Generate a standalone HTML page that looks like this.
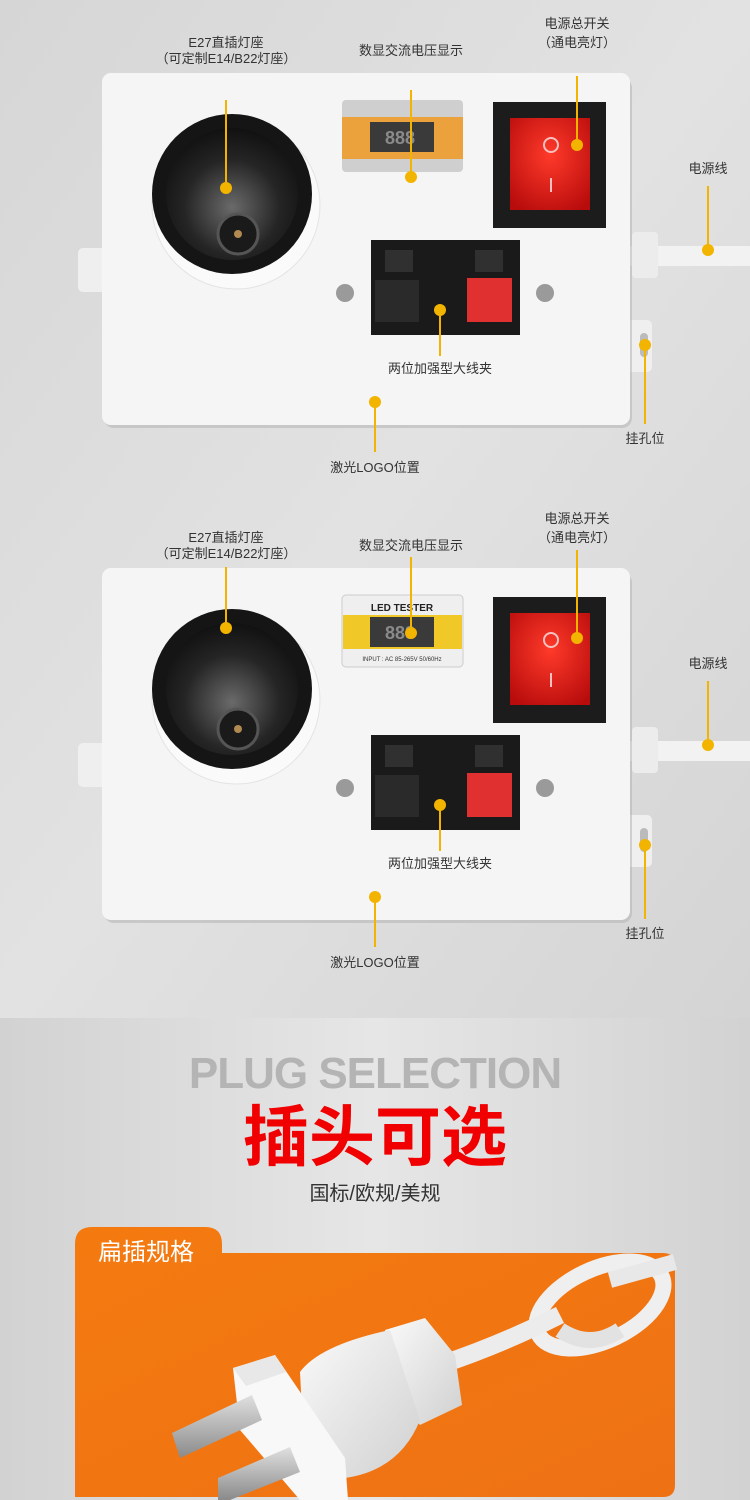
<!DOCTYPE html>
<html><head><meta charset="utf-8"><style>
html,body{margin:0;padding:0;width:750px;height:1500px;overflow:hidden;background:#d9d9d9}
svg{display:block}
text{font-family:"Liberation Sans","Noto Sans CJK SC",sans-serif}
</style></head><body>
<svg width="750" height="1500" viewBox="0 0 750 1500" xmlns="http://www.w3.org/2000/svg">
<defs>
<linearGradient id="bg1" x1="0" y1="0" x2="1" y2="1"><stop offset="0" stop-color="#d6d6d6"/><stop offset="0.5" stop-color="#e2e2e2"/><stop offset="1" stop-color="#d4d4d4"/></linearGradient>
<linearGradient id="bg2" x1="0" y1="0" x2="1" y2="0"><stop offset="0" stop-color="#d2d2d2"/><stop offset="0.5" stop-color="#e6e6e6"/><stop offset="1" stop-color="#d2d2d2"/></linearGradient>
<linearGradient id="or" x1="0" y1="0" x2="1" y2="1"><stop offset="0" stop-color="#f47a10"/><stop offset="1" stop-color="#ee7214"/></linearGradient>
<radialGradient id="red" cx="0.5" cy="0.4" r="0.7"><stop offset="0" stop-color="#ff3a2a"/><stop offset="1" stop-color="#b80c0c"/></radialGradient>
<radialGradient id="sock" cx="0.5" cy="0.6" r="0.6"><stop offset="0" stop-color="#6a6a6a"/><stop offset="0.6" stop-color="#252525"/><stop offset="1" stop-color="#111"/></radialGradient>
<linearGradient id="plg" x1="0" y1="0" x2="0" y2="1"><stop offset="0" stop-color="#e0e0e0"/><stop offset="1" stop-color="#8a8a8a"/></linearGradient>
<linearGradient id="wb" x1="0" y1="0" x2="1" y2="1"><stop offset="0" stop-color="#fafafa"/><stop offset="1" stop-color="#d0d0d0"/></linearGradient>
</defs>
<rect x="0" y="0" width="750" height="1018" fill="url(#bg1)"/>
<rect x="0" y="1018" width="750" height="482" fill="url(#bg2)"/>

<!-- BLOCK 1 -->
<g>
<path d="M630 246 L750 246 L750 266 L630 266 Z" fill="#f2f2f2"/>
<rect x="632" y="232" width="26" height="46" rx="4" fill="#ececec"/>
<rect x="78" y="248" width="30" height="44" rx="5" fill="#efefef"/>
<rect x="620" y="320" width="32" height="52" rx="5" fill="#efefef"/>
<rect x="640" y="333" width="8" height="24" rx="4" fill="#bbb"/>
<rect x="104" y="78" width="528" height="350" rx="10" fill="#b0b0b0" opacity="0.5"/>
<rect x="102" y="73" width="528" height="352" rx="9" fill="#f5f5f5"/>
<circle cx="236" cy="205" r="84" fill="#fafafa" stroke="#e4e4e4"/>
<circle cx="232" cy="194" r="80" fill="#151515"/>
<circle cx="232" cy="194" r="66" fill="url(#sock)"/>
<circle cx="238" cy="234" r="20" fill="#1a1a1a" stroke="#555" stroke-width="3"/>
<circle cx="238" cy="234" r="4" fill="#b08a50"/>
<rect x="342" y="100" width="121" height="72" rx="4" fill="#cfcfcf"/>
<rect x="342" y="117" width="121" height="42" fill="#eba23c"/>
<rect x="370" y="122" width="64" height="30" fill="#3a3a3a"/>
<text x="385" y="144" font-size="18" fill="#8a8a8a" font-weight="bold">888</text>
<rect x="493" y="102" width="113" height="126" fill="#1c1c1c"/>
<rect x="510" y="118" width="80" height="92" fill="url(#red)"/>
<circle cx="551" cy="145" r="7" fill="none" stroke="#f5c0c0" stroke-width="2"/>
<line x1="551" y1="178" x2="551" y2="192" stroke="#f5c0c0" stroke-width="2"/>
<rect x="371" y="240" width="149" height="95" fill="#1a1a1a"/>
<rect x="385" y="250" width="28" height="22" fill="#303030"/><rect x="475" y="250" width="28" height="22" fill="#303030"/>
<rect x="375" y="280" width="44" height="42" fill="#2a2a2a"/>
<rect x="467" y="278" width="45" height="44" fill="#e03030"/>
<circle cx="345" cy="293" r="9" fill="#9a9a9a"/><circle cx="545" cy="293" r="9" fill="#9a9a9a"/>
<g stroke="#f3b400" stroke-width="2" fill="none">
<line x1="226" y1="100" x2="226" y2="188"/>
<line x1="411" y1="90" x2="411" y2="177"/>
<line x1="577" y1="76" x2="577" y2="145"/>
<line x1="708" y1="186" x2="708" y2="250"/>
<line x1="440" y1="310" x2="440" y2="356"/>
<line x1="375" y1="402" x2="375" y2="452"/>
<line x1="645" y1="345" x2="645" y2="424"/>
</g>
<g fill="#f3b400">
<circle cx="226" cy="188" r="6"/><circle cx="411" cy="177" r="6"/><circle cx="577" cy="145" r="6"/>
<circle cx="708" cy="250" r="6"/><circle cx="440" cy="310" r="6"/><circle cx="375" cy="402" r="6"/><circle cx="645" cy="345" r="6"/>
</g>
<g font-size="13" fill="#333" text-anchor="middle">
<text x="226" y="47">E27直插灯座</text>
<text x="226" y="63">（可定制E14/B22灯座）</text>
<text x="411" y="55">数显交流电压显示</text>
<text x="577" y="28">电源总开关</text>
<text x="577" y="47">（通电亮灯）</text>
<text x="708" y="173">电源线</text>
<text x="440" y="373">两位加强型大线夹</text>
<text x="375" y="472">激光LOGO位置</text>
<text x="645" y="443">挂孔位</text>
</g>
</g>

<!-- BLOCK 2 -->
<g transform="translate(0,495)">
<path d="M630 246 L750 246 L750 266 L630 266 Z" fill="#f2f2f2"/>
<rect x="632" y="232" width="26" height="46" rx="4" fill="#ececec"/>
<rect x="78" y="248" width="30" height="44" rx="5" fill="#efefef"/>
<rect x="620" y="320" width="32" height="52" rx="5" fill="#efefef"/>
<rect x="640" y="333" width="8" height="24" rx="4" fill="#bbb"/>
<rect x="104" y="78" width="528" height="350" rx="10" fill="#b0b0b0" opacity="0.5"/>
<rect x="102" y="73" width="528" height="352" rx="9" fill="#f5f5f5"/>
<circle cx="236" cy="205" r="84" fill="#fafafa" stroke="#e4e4e4"/>
<circle cx="232" cy="194" r="80" fill="#151515"/>
<circle cx="232" cy="194" r="66" fill="url(#sock)"/>
<circle cx="238" cy="234" r="20" fill="#1a1a1a" stroke="#555" stroke-width="3"/>
<circle cx="238" cy="234" r="4" fill="#b08a50"/>
<rect x="342" y="100" width="121" height="72" rx="4" fill="#efefef" stroke="#ccc"/>
<text x="402" y="116" font-size="10" font-weight="bold" fill="#222" text-anchor="middle">LED TESTER</text>
<rect x="343" y="120" width="119" height="34" fill="#f0c828"/>
<rect x="370" y="122" width="64" height="30" fill="#3a3a3a"/>
<text x="385" y="144" font-size="18" fill="#8a8a8a" font-weight="bold">888</text>
<text x="402" y="166" font-size="6" fill="#333" text-anchor="middle">INPUT : AC 85-265V 50/60Hz</text>
<rect x="493" y="102" width="113" height="126" fill="#1c1c1c"/>
<rect x="510" y="118" width="80" height="92" fill="url(#red)"/>
<circle cx="551" cy="145" r="7" fill="none" stroke="#f5c0c0" stroke-width="2"/>
<line x1="551" y1="178" x2="551" y2="192" stroke="#f5c0c0" stroke-width="2"/>
<rect x="371" y="240" width="149" height="95" fill="#1a1a1a"/>
<rect x="385" y="250" width="28" height="22" fill="#303030"/><rect x="475" y="250" width="28" height="22" fill="#303030"/>
<rect x="375" y="280" width="44" height="42" fill="#2a2a2a"/>
<rect x="467" y="278" width="45" height="44" fill="#e03030"/>
<circle cx="345" cy="293" r="9" fill="#9a9a9a"/><circle cx="545" cy="293" r="9" fill="#9a9a9a"/>
<g stroke="#f3b400" stroke-width="2" fill="none">
<line x1="226" y1="72" x2="226" y2="133"/>
<line x1="411" y1="62" x2="411" y2="138"/>
<line x1="577" y1="55" x2="577" y2="143"/>
<line x1="708" y1="186" x2="708" y2="250"/>
<line x1="440" y1="310" x2="440" y2="356"/>
<line x1="375" y1="402" x2="375" y2="452"/>
<line x1="645" y1="350" x2="645" y2="424"/>
</g>
<g fill="#f3b400">
<circle cx="226" cy="133" r="6"/><circle cx="411" cy="138" r="6"/><circle cx="577" cy="143" r="6"/>
<circle cx="708" cy="250" r="6"/><circle cx="440" cy="310" r="6"/><circle cx="375" cy="402" r="6"/><circle cx="645" cy="350" r="6"/>
</g>
<g font-size="13" fill="#333" text-anchor="middle">
<text x="226" y="47">E27直插灯座</text>
<text x="226" y="63">（可定制E14/B22灯座）</text>
<text x="411" y="55">数显交流电压显示</text>
<text x="577" y="28">电源总开关</text>
<text x="577" y="47">（通电亮灯）</text>
<text x="708" y="173">电源线</text>
<text x="440" y="373">两位加强型大线夹</text>
<text x="375" y="472">激光LOGO位置</text>
<text x="645" y="443">挂孔位</text>
</g>
</g>

<!-- Bottom -->
<text x="375" y="1088" font-size="44" font-weight="bold" fill="#b4b4b4" text-anchor="middle" letter-spacing="-1">PLUG SELECTION</text>
<text x="375" y="1160" font-size="66" font-weight="bold" fill="#f00000" text-anchor="middle" font-family="'Noto Sans CJK SC',sans-serif">插头可选</text>
<text x="375" y="1200" font-size="20" fill="#333" text-anchor="middle">国标/欧规/美规</text>
<path d="M75 1497 L75 1244 Q75 1227 92 1227 L205 1227 Q222 1227 222 1244 L222 1253 L663 1253 Q675 1253 675 1265 L675 1485 Q675 1497 663 1497 Z" fill="url(#or)"/>
<text x="98" y="1260" font-size="24" fill="#fff" font-family="'Noto Sans CJK SC',sans-serif">扁插规格</text>
<!-- cord loop -->
<ellipse cx="600" cy="1305" rx="68" ry="36" transform="rotate(-25 600 1305)" stroke="#efefef" stroke-width="16" fill="none"/>
<path d="M610 1280 L675 1262" stroke="#e8e8e8" stroke-width="16"/>
<path d="M560 1330 Q590 1350 620 1330" stroke="#e2e2e2" stroke-width="16" fill="none"/>
<path d="M440 1365 Q500 1345 560 1315" stroke="#ececec" stroke-width="18" fill="none"/>
<!-- plug body -->
<path d="M385 1330 L425 1318 L455 1355 L462 1405 L420 1425 L395 1400 Z" fill="url(#wb)"/>
<path d="M300 1372 Q320 1345 390 1330 L420 1420 Q400 1470 345 1478 L305 1470 Z" fill="url(#wb)"/>
<path d="M233 1368 L275 1355 L345 1458 L348 1500 L300 1500 L240 1430 Z" fill="#f8f8f8"/>
<path d="M233 1368 L275 1355 L286 1372 L246 1386 Z" fill="#e8e8e8"/>
<!-- prongs -->
<path d="M172 1433 L252 1395 L262 1420 L180 1458 Z" fill="url(#plg)"/>
<path d="M218 1478 L290 1447 L300 1472 L230 1500 L218 1500 Z" fill="url(#plg)"/>
</svg>
</body></html>
